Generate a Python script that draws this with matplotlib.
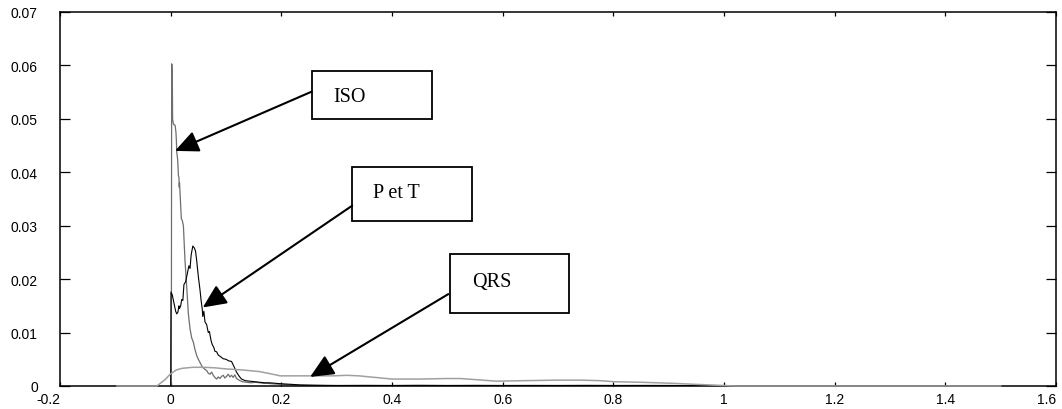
import matplotlib
matplotlib.use("Agg")
import matplotlib.pyplot as plt
from matplotlib.patches import Rectangle
from matplotlib.transforms import ScaledTranslation

# ---------------- data ----------------
iso_x = [0.0000, 0.0012, 0.0018, 0.0022, 0.0030, 0.0035, 0.0050, 0.0080, 0.0095, 0.0103,
         0.0110, 0.0125, 0.0133, 0.0140, 0.0150, 0.0155, 0.0160, 0.0170, 0.0193, 0.0210,
         0.0230, 0.0259, 0.0290, 0.0320, 0.0350, 0.0380, 0.0410, 0.0440, 0.0470, 0.0500,
         0.0530, 0.0560, 0.0590, 0.0620, 0.0650, 0.0680, 0.0710, 0.0740, 0.0770, 0.0800,
         0.0830, 0.0860, 0.0890, 0.0920, 0.0950, 0.0980, 0.1010, 0.1040, 0.1070, 0.1100,
         0.1130, 0.1160, 0.1190, 0.1220, 0.1250, 0.1300, 0.1370, 0.1450, 0.1530, 0.1610,
         0.1680, 0.1750, 0.1850, 0.2000, 0.2210, 0.2500, 0.3000, 0.4000, 0.5000, 0.6000,
         0.7000, 0.8000, 0.9000, 0.9500, 1.0000]
iso_y = [0.0000, 0.0000, 0.0603, 0.0602, 0.0580, 0.0500, 0.0490, 0.0488, 0.0475, 0.0460,
         0.0438, 0.0425, 0.0410, 0.0394, 0.0390, 0.0372, 0.0380, 0.0360, 0.0313, 0.0310,
         0.0300, 0.0235, 0.0185, 0.0135, 0.0107, 0.0090, 0.0082, 0.0068, 0.0057, 0.0050,
         0.0044, 0.0038, 0.0034, 0.0031, 0.0029, 0.0024, 0.0022, 0.0026, 0.0020, 0.0016,
         0.0013, 0.0017, 0.0014, 0.0018, 0.0020, 0.0015, 0.0018, 0.0022, 0.0017, 0.0020,
         0.0016, 0.0021, 0.0014, 0.0012, 0.0010, 0.0008, 0.0007, 0.0006, 0.0007, 0.0006,
         0.0005, 0.0005, 0.0004, 0.0003, 0.0002, 0.0001, 0.00005, 0.00005, 0.00005, 0.00004,
         0.00004, 0.00003, 0.00003, 0.00002, 0.0000]

pt_x = [0.0000, 0.0006, 0.0030, 0.0050, 0.0070, 0.0090, 0.0110, 0.0130, 0.0150, 0.0160,
        0.0180, 0.0200, 0.0220, 0.0240, 0.0270, 0.0300, 0.0330, 0.0350, 0.0370, 0.0400,
        0.0430, 0.0450, 0.0470, 0.0500, 0.0530, 0.0550, 0.0570, 0.0580, 0.0600, 0.0620,
        0.0650, 0.0680, 0.0700, 0.0730, 0.0750, 0.0780, 0.0800, 0.0830, 0.0860, 0.0900,
        0.0950, 0.1000, 0.1050, 0.1100, 0.1150, 0.1190, 0.1240, 0.1280, 0.1350, 0.1430,
        0.1520, 0.1610, 0.1700, 0.1790, 0.1900, 0.2030, 0.2200, 0.2330, 0.2600, 0.3000,
        0.3500, 0.4000, 0.4500, 0.5000, 0.5500, 0.6000, 0.6500, 0.7000, 0.7500, 0.8000,
        0.8500, 0.9000, 0.9500, 1.0000]
pt_y = [0.0000, 0.0176, 0.0170, 0.0160, 0.0150, 0.0140, 0.0135, 0.0138, 0.0150, 0.0145,
        0.0150, 0.0162, 0.0160, 0.0190, 0.0195, 0.0210, 0.0225, 0.0220, 0.0245, 0.0262,
        0.0258, 0.0252, 0.0235, 0.0205, 0.0180, 0.0160, 0.0145, 0.0130, 0.0140, 0.0120,
        0.0115, 0.0100, 0.0102, 0.0085, 0.0078, 0.0072, 0.0065, 0.0064, 0.0058, 0.0055,
        0.0051, 0.0050, 0.0047, 0.0046, 0.0035, 0.0026, 0.0018, 0.0013, 0.0010, 0.0009,
        0.0008, 0.0007, 0.0006, 0.0006, 0.0005, 0.0004, 0.0003, 0.0002, 0.00015, 0.0001,
        0.00012, 0.0001, 0.00013, 0.0001, 0.00012, 0.0001, 0.00011, 0.0001, 0.00012, 0.0001,
        0.00011, 0.0001, 0.00008, 0.0000]

qrs_x = [-0.097, -0.025, -0.010, -0.001, 0.010, 0.020, 0.040, 0.060, 0.080, 0.100,
         0.130, 0.160, 0.180, 0.198, 0.250, 0.294, 0.318, 0.340, 0.370, 0.400,
         0.450, 0.500, 0.523, 0.550, 0.589, 0.640, 0.698, 0.740, 0.776, 0.800,
         0.850, 0.908, 0.950, 0.998, 1.020, 1.500]
qrs_y = [0.0000, 0.0000, 0.0012, 0.0022, 0.0030, 0.0033, 0.0035, 0.0035, 0.0034, 0.0032,
         0.0030, 0.0027, 0.0023, 0.0019, 0.0019, 0.0019, 0.0020, 0.0019, 0.0016, 0.0013,
         0.0013, 0.0014, 0.0014, 0.0012, 0.0009, 0.0010, 0.0011, 0.0011, 0.0010, 0.0008,
         0.0007, 0.0005, 0.0003, 0.0001, 0.0000, 0.0000]

x_ticks = [-0.2, 0.0, 0.2, 0.4, 0.6, 0.8, 1.0, 1.2, 1.4, 1.6]
x_tick_labels = ["-0.2", "0", "0.2", "0.4", "0.6", "0.8", "1", "1.2", "1.4", "1.6"]
y_ticks = [0.0, 0.01, 0.02, 0.03, 0.04, 0.05, 0.06, 0.07]
y_tick_labels = ["0", "0.01", "0.02", "0.03", "0.04", "0.05", "0.06", "0.07"]

labels = ["ISO", "P et T", "QRS"]

# ---------------- figure ----------------
fig = plt.figure(figsize=(10.62, 4.10), dpi=100)
ax = fig.add_axes([60 / 1062, 23 / 410, 996 / 1062, 374 / 410])

ax.plot(qrs_x, qrs_y, color="#a0a0a0", lw=1.1, zorder=3, clip_on=False)
ax.plot(iso_x, iso_y, color="#6e6e6e", lw=0.9, zorder=2)
ax.plot(pt_x, pt_y, color="#000000", lw=0.8, zorder=2)

ax.set_xlim(-0.2, 1.6)
ax.set_ylim(0, 0.07)
ax.set_xticks(x_ticks)
ax.set_xticklabels(x_tick_labels)
ax.set_yticks(y_ticks)
ax.set_yticklabels(y_tick_labels)

for lab in ax.get_xticklabels() + ax.get_yticklabels():
    lab.set_family("Liberation Sans")
    lab.set_fontsize(10)

# first and last x labels sit to the left of their ticks, as in the reference
xl = ax.get_xticklabels()
for lab in (xl[0], xl[-1]):
    lab.set_horizontalalignment("right")
    lab.set_transform(lab.get_transform() + ScaledTranslation(1.5 / 100, 0, fig.dpi_scale_trans))

ax.tick_params(axis="x", direction="in", length=3, width=0.9, top=True, bottom=True, pad=4)
ax.tick_params(axis="y", direction="in", length=7, width=0.9, left=True, right=True, pad=16)
for s in ax.spines.values():
    s.set_linewidth(1.1)
    s.set_color("#000000")

# annotation boxes
boxes = [
    (0.255, 0.0500, 0.472, 0.0589),
    (0.328, 0.0308, 0.544, 0.0409),
    (0.505, 0.0137, 0.720, 0.0247),
]
text_pos = [(0.2934, 0.0534), (0.3663, 0.0353), (0.544, 0.01878)]
arrow_start = [(0.255, 0.0551), (0.328, 0.03375), (0.5018, 0.0172)]
arrow_tip = [(0.0078, 0.0440), (0.058, 0.0147), (0.252, 0.0017)]

for (x0, y0, x1, y1), (tx, ty), st, tp, lab in zip(boxes, text_pos, arrow_start, arrow_tip, labels):
    ax.add_patch(Rectangle((x0, y0), x1 - x0, y1 - y0, fill=True, facecolor="white",
                           edgecolor="black", lw=1.3, zorder=5))
    ax.text(tx, ty, lab, family="Liberation Serif", fontsize=14.5, va="baseline",
            ha="left", zorder=6)
    ax.annotate("", xy=tp, xytext=st,
                arrowprops=dict(arrowstyle="-|>,head_length=0.72,head_width=0.33",
                                mutation_scale=20, lw=1.5, color="black",
                                shrinkA=0, shrinkB=0),
                zorder=5)

fig.savefig("out.png", dpi=100)
